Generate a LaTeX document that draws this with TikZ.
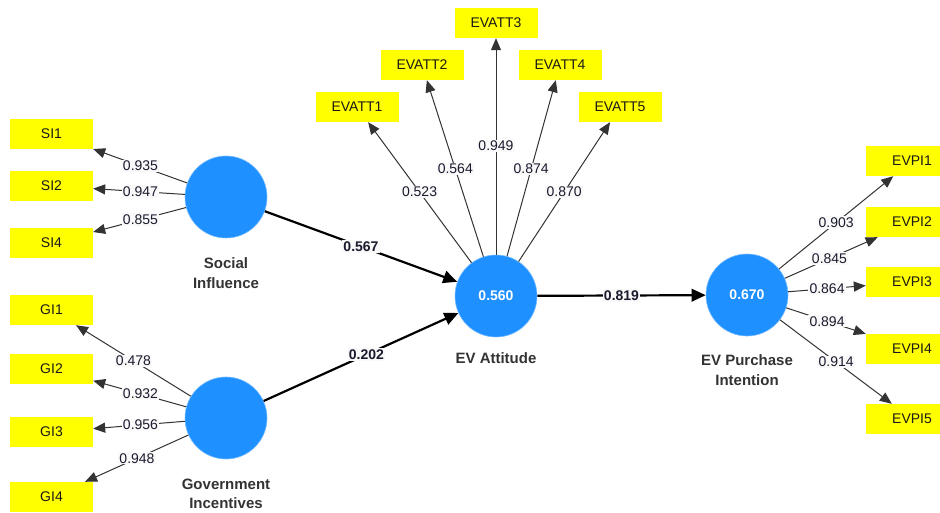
\documentclass[tikz,border=0pt]{standalone}
\usepackage{fontspec}
\setmainfont{Liberation Sans}
\usetikzlibrary{arrows.meta,calc}
\definecolor{lvblue}{HTML}{1E90FF}
\definecolor{mvyellow}{HTML}{FFFF00}
\definecolor{lbltext}{HTML}{1A1A2E}
\begin{document}
\begin{tikzpicture}[x=1pt,y=-1pt,
  fs/.style={font=\fontsize{14}{17}\selectfont},
  lv/.style={circle, fill=lvblue, draw=lvblue!60!white, line width=0.6pt, minimum size=82pt, inner sep=0pt, text=white, font=\bfseries\fontsize{14}{17}\selectfont},
  mv/.style={rectangle, fill=mvyellow, minimum width=83pt, minimum height=30pt, inner sep=0pt, text=black!90, fs},
  mvr/.style={mv, minimum width=92pt},
  lvname/.style={align=center, text=black!80, font=\bfseries\fontsize{15}{19.5}\selectfont},
  ld/.style={draw=black!80, line width=1pt, -{Triangle[length=12pt,width=10pt]}},
  sp/.style={draw=black, line width=2.2pt, -{Triangle[length=14pt,width=12.5pt]}},
  lbl/.style={fill=gray!5, inner sep=1.2pt, text=lbltext, fs},
  slbl/.style={lbl, font=\bfseries\fontsize{14}{17}\selectfont}
]
\useasboundingbox[fill=white] (0,0) rectangle (940,513);

% latent variables
\node[lv] (si) at (226,197) {};
\node[lv] (gi) at (226,418) {};
\node[lv] (att) at (496,296) {0.560};
\node[lv] (pi) at (747,295) {0.670};

\node[lvname] (siname) at (226,273) {Social\\Influence};
\node[lvname] (giname) at (226,494) {Government\\Incentives};
\node[lvname] (attname) at (496,358) {EV Attitude};
\node[lvname] (piname) at (747,370) {EV Purchase\\Intention};

% indicators
\node[mv] (si1) at (51.5,134) {SI1};
\node[mv] (si2) at (51.5,186) {SI2};
\node[mv] (si4) at (51.5,243) {SI4};
\node[mv] (gi1) at (51.5,310) {GI1};
\node[mv] (gi2) at (51.5,369) {GI2};
\node[mv] (gi3) at (51.5,432) {GI3};
\node[mv] (gi4) at (51.5,497) {GI4};

\node[mv] (a1) at (357,107) {EVATT1};
\node[mv] (a2) at (422,65) {EVATT2};
\node[mv] (a3) at (496,23) {EVATT3};
\node[mv] (a4) at (560,65) {EVATT4};
\node[mv] (a5) at (620,107) {EVATT5};

\node[mvr] (p1) at (912,161) {EVPI1};
\node[mvr] (p2) at (912,222) {EVPI2};
\node[mvr] (p3) at (912,282) {EVPI3};
\node[mvr] (p4) at (912,349) {EVPI4};
\node[mvr] (p5) at (912,419) {EVPI5};

% outer loadings
\foreach \t in {si1,si2,si4} \draw[ld] (si) -- (\t);
\foreach \t in {gi1,gi2,gi3,gi4} \draw[ld] (gi) -- (\t);
\foreach \t in {a1,a2,a3,a4,a5} \draw[ld] (att) -- (\t);
\foreach \t in {p1,p2,p3,p4,p5} \draw[ld] (pi) -- (\t);

% structural paths
\draw[sp] (si) -- (att);
\draw[sp] (gi) -- (att);
\draw[sp] (att) -- (pi);

% loading labels
\node[lbl] (lsi1) at ($(si)!0.49!(si1)$) {0.935};
\node[lbl] (lsi2) at ($(si)!0.49!(si2)$) {0.947};
\node[lbl] (lsi4) at ($(si)!0.49!(si4)$) {0.855};
\node[lbl] (lgi1) at ($(gi)!0.53!(gi1)$) {0.478};
\node[lbl] (lgi2) at ($(gi)!0.49!(gi2)$) {0.932};
\node[lbl] (lgi3) at ($(gi)!0.49!(gi3)$) {0.956};
\node[lbl] (lgi4) at ($(gi)!0.51!(gi4)$) {0.948};
\node[lbl] (la1) at ($(att)!0.55!(a1)$) {0.523};
\node[lbl] (la2) at ($(att)!0.55!(a2)$) {0.564};
\node[lbl] (la3) at ($(att)!0.55!(a3)$) {0.949};
\node[lbl] (la4) at ($(att)!0.55!(a4)$) {0.874};
\node[lbl] (la5) at ($(att)!0.55!(a5)$) {0.870};
\node[lbl] (lp1) at ($(pi)!0.54!(p1)$) {0.903};
\node[lbl] (lp2) at ($(pi)!0.50!(p2)$) {0.845};
\node[lbl] (lp3) at ($(pi)!0.485!(p3)$) {0.864};
\node[lbl] (lp4) at ($(pi)!0.485!(p4)$) {0.894};
\node[lbl] (lp5) at ($(pi)!0.54!(p5)$) {0.914};

% path coefficients
\node[slbl] (c1) at ($(si)!0.50!(att)$) {0.567};
\node[slbl] (c2) at ($(gi)!0.52!(att)$) {0.202};
\node[slbl] (c3) at ($(att)!0.50!(pi)$) {0.819};
\end{tikzpicture}
\end{document}
